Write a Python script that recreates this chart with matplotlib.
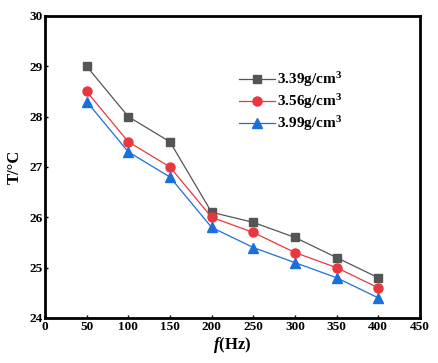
import matplotlib
matplotlib.use("Agg")
import matplotlib.pyplot as plt

freq = [50, 100, 150, 200, 250, 300, 350, 400]
t_339 = [29.0, 28.0, 27.5, 26.1, 25.9, 25.6, 25.2, 24.8]
t_356 = [28.5, 27.5, 27.0, 26.0, 25.7, 25.3, 25.0, 24.6]
t_399 = [28.3, 27.3, 26.8, 25.8, 25.4, 25.1, 24.8, 24.4]
labels = ["3.39g/cm$^\\mathbf{3}$", "3.56g/cm$^\\mathbf{3}$", "3.99g/cm$^\\mathbf{3}$"]
xticks = [0, 50, 100, 150, 200, 250, 300, 350, 400, 450]
yticks = [24, 25, 26, 27, 28, 29, 30]

plt.rcParams['font.family'] = ['Liberation Serif', 'DejaVu Serif']
plt.rcParams['font.weight'] = 'bold'
plt.rcParams['mathtext.fontset'] = 'custom'
plt.rcParams['mathtext.rm'] = 'Liberation Serif:bold'
plt.rcParams['mathtext.bf'] = 'Liberation Serif:bold'
plt.rcParams['mathtext.it'] = 'Liberation Serif:italic:bold'

fig = plt.figure(figsize=(4.38, 3.63), dpi=100)
ax = fig.add_axes([0.1027, 0.124, 0.856, 0.832])

ax.plot(freq, t_339, color='#555555', lw=0.9, marker='s', ms=6, label=labels[0])
ax.plot(freq, t_356, color='#e8383d', lw=0.9, marker='o', ms=6.5, label=labels[1])
ax.plot(freq, t_399, color='#1a6fdb', lw=0.9, marker='^', ms=6.5, label=labels[2])

ax.set_xlim(0, 450)
ax.set_ylim(24, 30)
ax.set_xticks(xticks)
ax.set_yticks(yticks)
for s in ax.spines.values():
    s.set_linewidth(2)
ax.tick_params(direction='in', length=2, width=1, labelsize=9.5)
ax.tick_params(axis='x', pad=2.5)
ax.tick_params(axis='y', pad=1.5)
for lab in ax.get_xticklabels() + ax.get_yticklabels():
    lab.set_fontweight('bold')

ax.set_xlabel("$\\mathit{f}$(Hz)", fontsize=12, fontweight='bold', labelpad=1)
ax.set_ylabel("T/°C", fontsize=12, fontweight='bold', labelpad=5)

leg = ax.legend(loc='upper left', bbox_to_anchor=(0.48, 0.865), frameon=False,
                handlelength=2.4, handletextpad=0.1, labelspacing=0.2,
                prop={'weight': 'bold', 'size': 11})

fig.savefig("out.png", dpi=100)
